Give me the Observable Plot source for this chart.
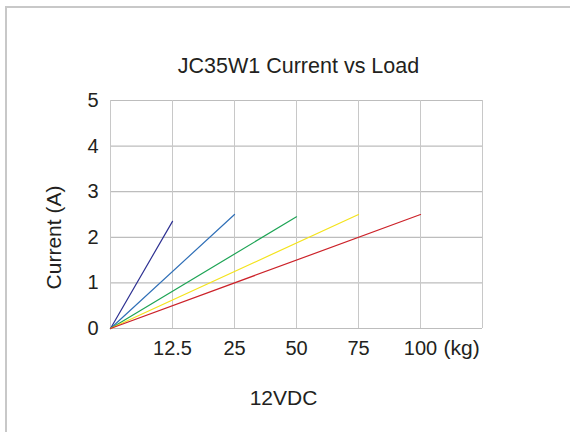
<!DOCTYPE html>
<html>
<head>
<meta charset="utf-8">
<script src="https://cdn.jsdelivr.net/npm/d3@7"></script>
<script src="https://cdn.jsdelivr.net/npm/@observablehq/plot@0.6"></script>
<style>
  html, body { margin: 0; padding: 0; background: #fff; }
  #wrap { position: relative; width: 570px; height: 432px; overflow: hidden; font-family: "Liberation Sans", Arial, sans-serif; }
  #border { position: absolute; left: 5px; top: 6px; width: 600px; height: 500px; border-top: 2px solid #c8c8c8; border-left: 2px solid #c8c8c8; box-sizing: border-box; }
  #chart { position: absolute; left: 0; top: 0; }
</style>
</head>
<body>
<div id="wrap"><div id="border"></div><div id="chart"></div></div>
<script>
const title = "JC35W1 Current vs Load";
const yLabel = "Current (A)";
const xLabel = "12VDC";
const loadLabels = ["12.5", "25", "50", "75", "100"];
const loadUnit = "(kg)";
const loadPositions = [1, 2, 3, 4, 5];
const maxCurrent = [2.35, 2.5, 2.45, 2.5, 2.5];
const seriesColors = ["#2e3192", "#2f6fb7", "#1ea455", "#f4e31c", "#cc2229"];
const yTicks = [0, 1, 2, 3, 4, 5];
const xGrid = [0, 1, 2, 3, 4, 5, 6];

const rows = [];
loadLabels.forEach((s, i) => {
  rows.push({series: s, x: 0, y: 0});
  rows.push({series: s, x: loadPositions[i], y: maxCurrent[i]});
});

const chart = Plot.plot({
  width: 570,
  height: 432,
  marginLeft: 110,
  marginRight: 88,
  marginTop: 100,
  marginBottom: 104,
  style: {fontFamily: "'Liberation Sans', Arial, sans-serif", background: "transparent", color: "#231f20"},
  x: {domain: [0, 6], axis: null},
  y: {domain: [0, 5], axis: null},
  color: {domain: loadLabels, range: seriesColors},
  marks: [
    Plot.ruleY(yTicks, {stroke: "#bdbdbd", strokeWidth: 1.2}),
    Plot.ruleX(xGrid, {stroke: "#c8c8c8", strokeWidth: 1}),
    Plot.line(rows, {x: "x", y: "y", z: "series", stroke: "series", strokeWidth: 1.2}),
    Plot.axisY(yTicks, {tickSize: 0, tickPadding: 12, fontSize: 20, label: null}),
    Plot.axisX(loadPositions, {tickSize: 0, tickPadding: 12, fontSize: 20, label: null,
      tickFormat: (d, i) => loadLabels[i]}),
    Plot.text([loadUnit], {x: 5, y: 0, text: d => d, dx: 23, dy: 19.5, textAnchor: "start", fontSize: 21}),
    Plot.text([title], {frameAnchor: "top", dx: 2, dy: -43, text: d => d, fontSize: 21.5}),
    Plot.text([xLabel], {frameAnchor: "bottom", dx: -13, dy: 76, text: d => d, fontSize: 21}),
    Plot.text([yLabel], {frameAnchor: "left", textAnchor: "middle", dx: -56, dy: 23, rotate: -90, text: d => d, fontSize: 21})
  ]
});
document.getElementById("chart").appendChild(chart);
</script>
</body>
</html>
